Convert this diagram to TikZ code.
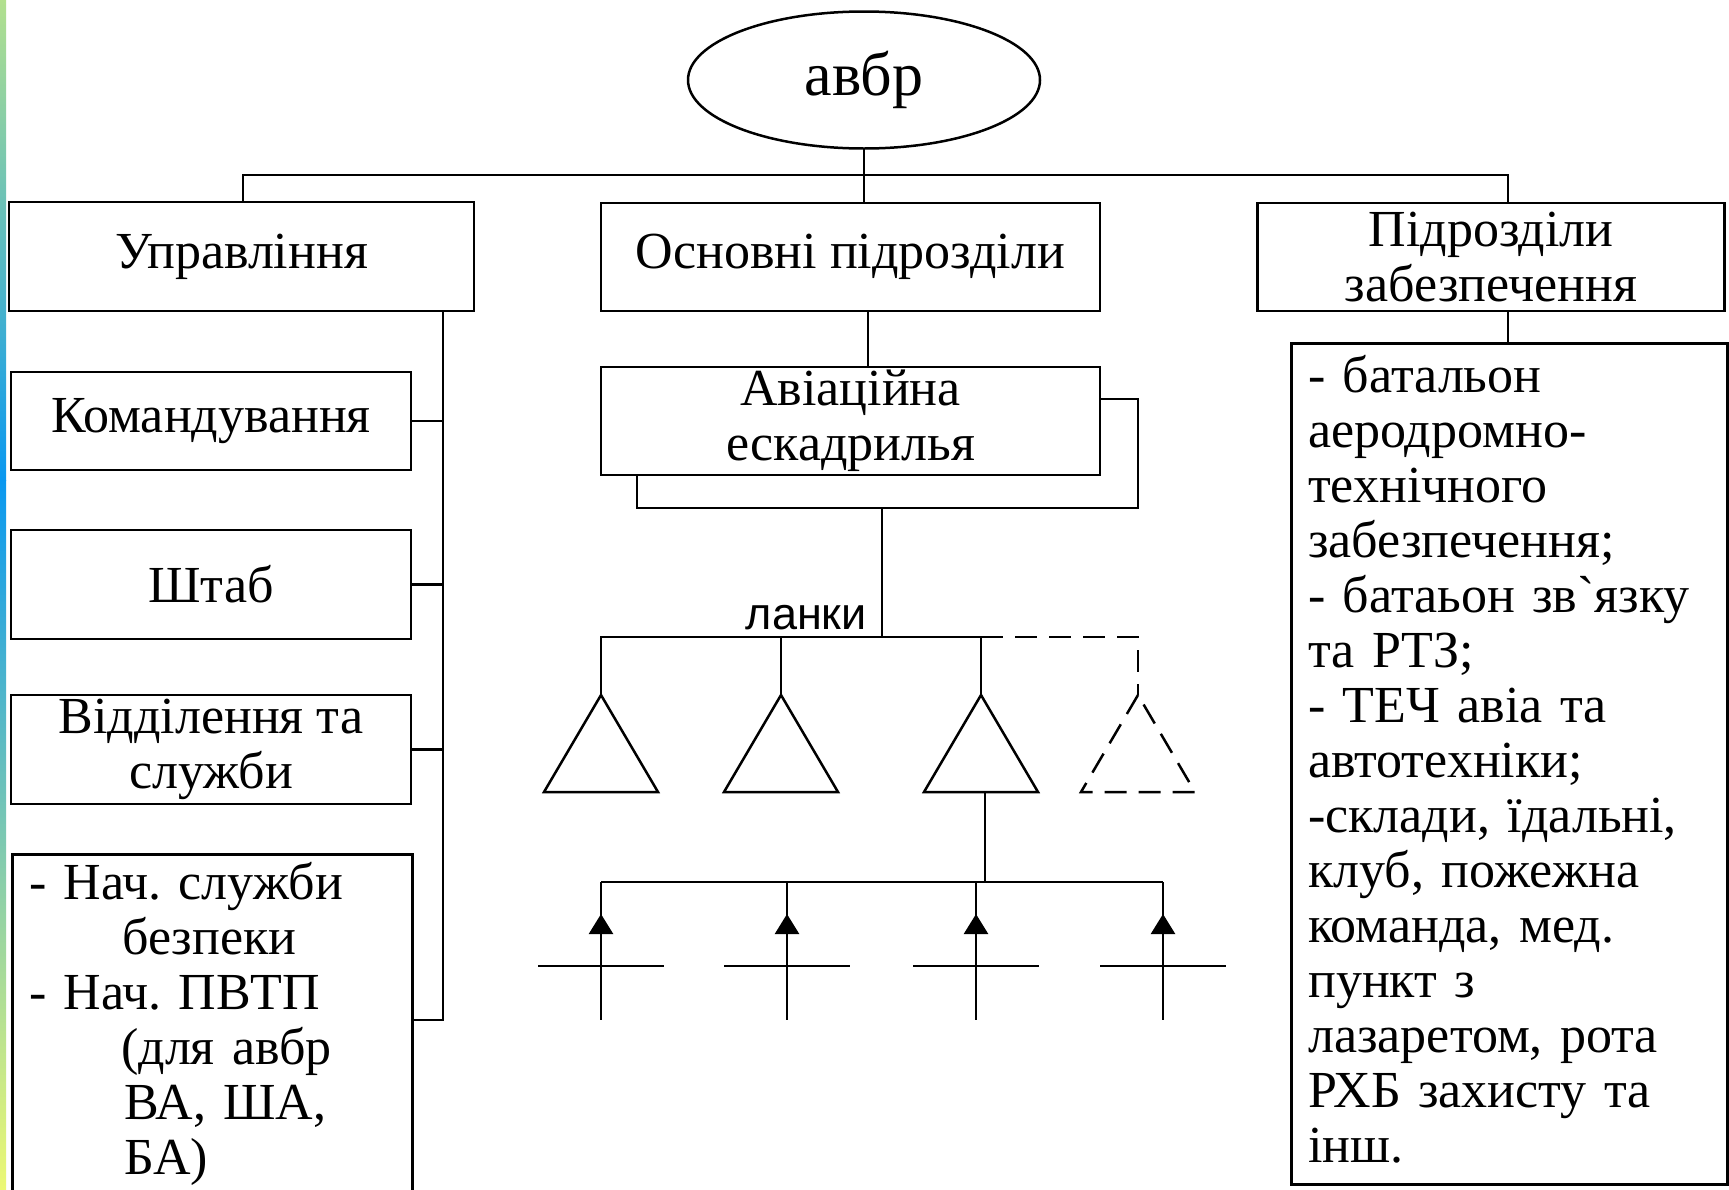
\documentclass[tikz,border=0pt]{standalone}
\usepackage{fontspec}
\setmainfont{Liberation Serif}
\newfontfamily\sansfnt{Liberation Sans}
\usepackage{tikz}
\usetikzlibrary{arrows.meta}
\usetikzlibrary{shapes.geometric}
\definecolor{stripetop}{HTML}{B2E08E}
\definecolor{stripemid}{HTML}{0A98F0}
\definecolor{stripebot}{HTML}{ECF874}
\frenchspacing

\begin{document}
\begin{tikzpicture}[x=1pt,y=-1pt]
                \tikzstyle{every node}=[font=\fontsize{52}{55}\selectfont]
                \tikzstyle{box}=[draw,line width=2.5pt,inner sep=0pt,align=center]
                \tikzstyle{lnk}=[line width=2.5pt]
                \tikzstyle{dashln}=[line width=2.5pt,dash pattern=on 22pt off 12pt]
                \useasboundingbox (0,0) rectangle (1729,1189);
                \fill[white] (0,0) rectangle (1729,1189);
                % side stripe
                \shade[top color=stripetop,bottom color=stripemid] (0,0) rectangle (6,480);
                \shade[top color=stripemid,bottom color=stripebot] (0,480) rectangle (6,1189);
                % top level
                \node[box,ellipse,minimum width=352pt,minimum height=137pt,font=\fontsize{62}{66}\selectfont] (avbr) at (864,80) {авбр};
                \node[box,minimum width=465pt,minimum height=109pt] (upr) at (241.5,256.5) {Управління};
                \node[box,minimum width=499pt,minimum height=108pt] (osn) at (850.5,257) {Основні підрозділи};
                \node[box,minimum width=467pt,minimum height=108pt] (pidr) at (1491,257) {Підрозділи\\забезпечення};
                % left column
                \node[box,minimum width=400pt,minimum height=98pt] (komand) at (211,421) {Командування};
                \node[box,minimum width=400pt,minimum height=109pt] (shtab) at (211,584.5) {Штаб};
                \node[box,minimum width=400pt,minimum height=109pt] (viddil) at (211,749.5) {Відділення та\\служби};
                \node[box,anchor=north west,align=left,text width=366pt,inner xsep=17pt,minimum height=340pt] (nach) at (11,853)
                     {- Нач. служби\\\hspace*{93pt}безпеки\\- Нач. ПВТП\\\hspace*{92pt}(для авбр\\\hspace*{95pt}ВА, ША,\\\hspace*{95pt}БА)};
                % squadron
                \node[box,minimum width=501pt,minimum height=109pt] (avsh) at (887.5,453.5) {};
                \node[box,fill=white,minimum width=499pt,minimum height=108pt] (avia) at (850.5,421) {Авіаційна\\ескадрилья};
                % right column
                \node[box,anchor=north west,align=left,text width=402pt,inner xsep=17pt,minimum height=841pt,text height=28pt] (spys) at (1290,342)
                     {- батальон\\аеродромно-\\технічного\\забезпечення;\\- батаьон зв\textasciigrave язку\\та РТЗ;\\- ТЕЧ авіа та\\автотехніки;\\-склади, їдальні,\\клуб, пожежна\\команда, мед.\\пункт з\\лазаретом, рота\\РХБ захисту та\\інш.};
                \node[font=\sansfnt\fontsize{45}{48}\selectfont,anchor=base east,inner sep=0pt] (lanky) at (867,629) {ланки};
                % links
                \coordinate (busL) at (243,175);
                \coordinate (busR) at (1508,175);
                \coordinate (osnlk) at (868,0);
                \coordinate (spine) at (443,1020);
                \draw[lnk] (avbr.south) -- (avbr.south |- osn.north);
                \draw[lnk] (busL |- upr.north) -- (busL) -- (busR) -- (busR |- pidr.north);
                \draw[lnk] (busR |- pidr.south) -- (busR |- spys.north);
                \draw[lnk] (osnlk |- osn.south) -- (osnlk |- avia.north);
                \draw[lnk] (spine |- upr.south) -- (spine) -- (spine -| nach.east);
                \foreach \b in {komand,shtab,viddil}
                    \draw[lnk] (\b.east) -- (\b.east -| spine);
                % flights
                \coordinate (lk) at (882,637);
                \foreach \x/\n in {601/1,781/2,981/3}
                    \draw[lnk] (\x,695) coordinate (ap\n) -- (\x-57,792) -- (\x+57,792) -- cycle;
                \draw[dashln] (1138,695) coordinate (ap4) -- (1081,792) -- (1195,792) -- cycle;
                \draw[lnk] (lk |- avsh.south) -- (lk);
                \draw[lnk] (ap1) -- (ap1 |- lk) -- (ap3 |- lk) -- (ap3);
                \draw[lnk] (ap2) -- (ap2 |- lk);
                \draw[dashln] (ap3 |- lk) -- (ap4 |- lk) -- (ap4);
                % aircraft
                \coordinate (tb3) at (985,792);
                \foreach \x/\n in {601/1,787/2,976/3,1163/4}{
                    \draw[lnk] (\x,882) coordinate (lt\n) -- (\x,1020);
                    \draw[lnk,-{Triangle[length=20pt,width=24pt]}] (\x,1000) -- (\x,914);
                    \draw[lnk] (\x-63,966) -- (\x+63,966);
                }
                \draw[lnk] (tb3) -- (tb3 |- lt1);
                \draw[lnk] (lt1) -- (lt4);
                % \draw[lnk] (lt4) -- ++(0,40);
            \end{tikzpicture}
\end{document}
